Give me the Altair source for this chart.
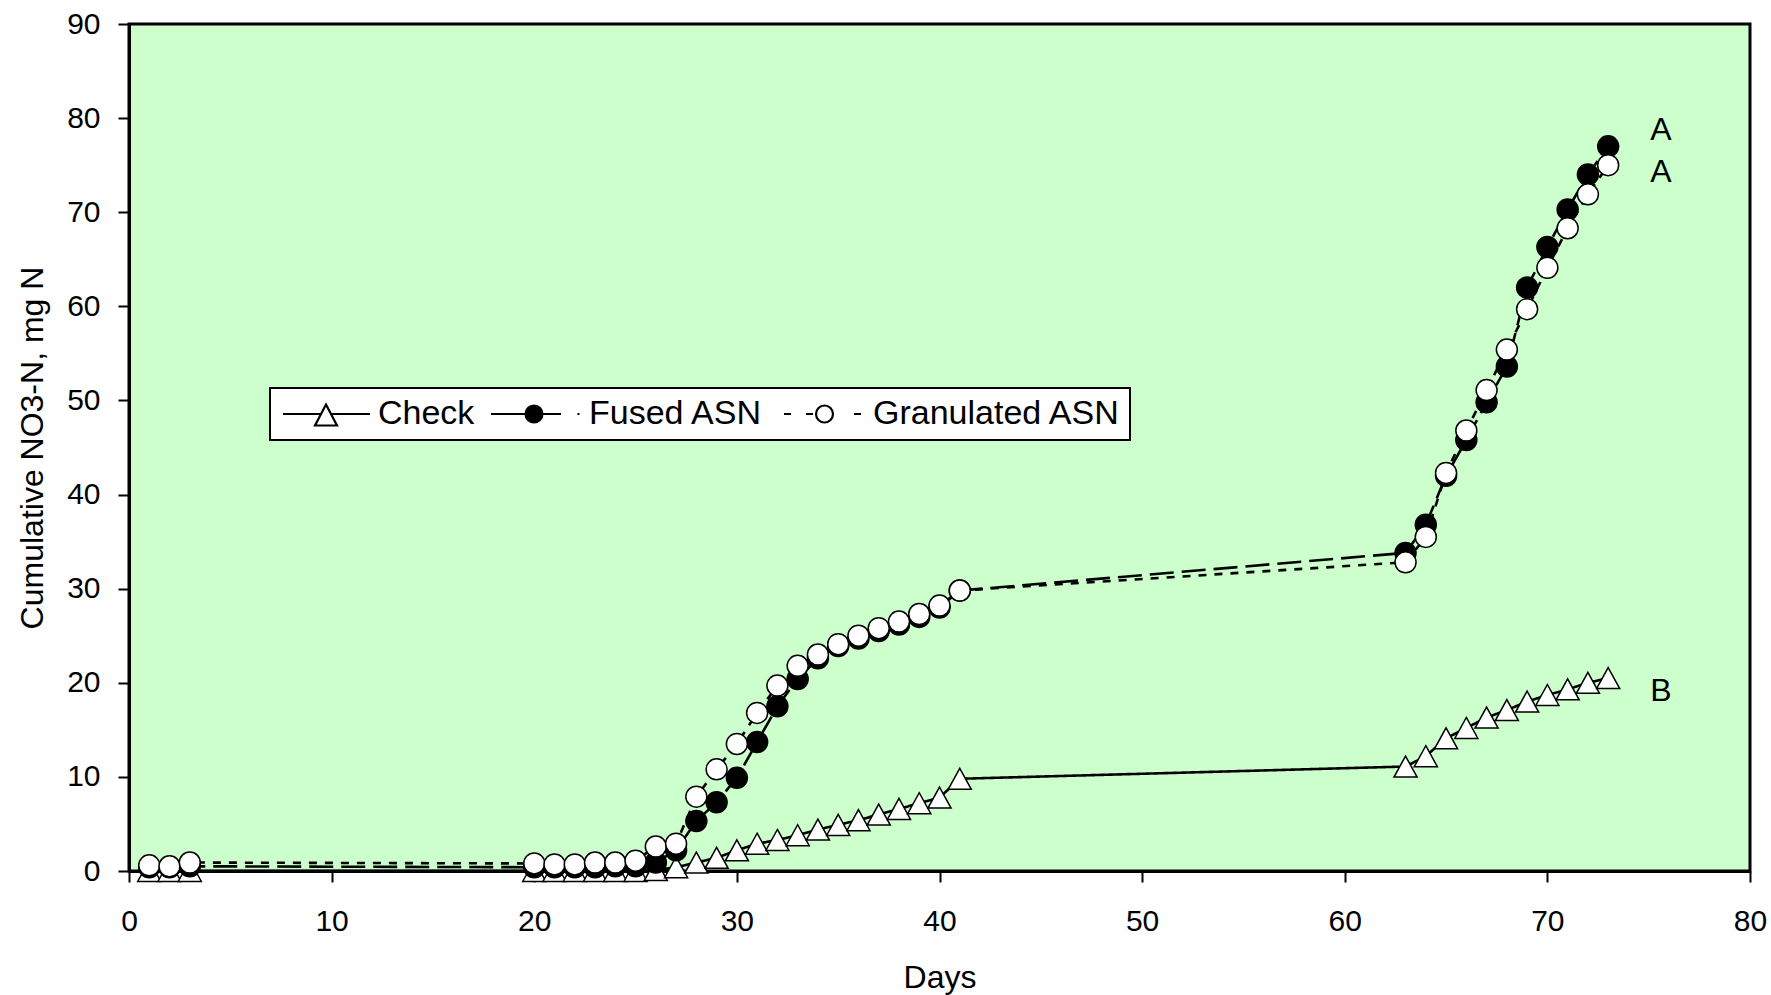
import altair as alt
import pandas as pd

FONT = "Liberation Sans"

# ---------------- data ----------------
series_names = ["Check", "Fused ASN", "Granulated ASN"]

days = [1, 2, 3,
        20, 21, 22, 23, 24, 25, 26, 27, 28, 29, 30, 31, 32, 33, 34, 35, 36, 37, 38, 39, 40, 41,
        63, 64, 65, 66, 67, 68, 69, 70, 71, 72, 73]

check = [0, 0, 0,
         0, 0, 0, 0, 0, 0, 0.1, 0.4, 0.9, 1.4, 2.2, 2.9, 3.3, 3.8, 4.4, 4.9, 5.4, 6.0, 6.6, 7.2, 7.8, 9.8,
         11.1, 12.2, 14.1, 15.2, 16.3, 17.1, 18.0, 18.7, 19.3, 20.0, 20.5]

fused = [0.4, 0.4, 0.5,
         0.4, 0.4, 0.4, 0.4, 0.5, 0.5, 0.9, 2.2, 5.3, 7.3, 9.9, 13.7, 17.5, 20.4, 22.6, 23.9, 24.7, 25.5,
         26.2, 27.0, 28.0, 29.8,
         33.8, 36.8, 42.0, 45.8, 49.8, 53.6, 62.0, 66.3, 70.3, 74.0, 77.0]

granulated = [0.6, 0.5, 0.9,
              0.8, 0.7, 0.7, 0.9, 0.9, 1.1, 2.6, 2.9, 7.9, 10.8, 13.5, 16.8, 19.7, 21.8, 23.0, 24.1, 25.0,
              25.8, 26.5, 27.3, 28.2, 29.8,
              32.8, 35.5, 42.3, 46.8, 51.1, 55.4, 59.7, 64.1, 68.3, 71.9, 75.0]

# letter annotations at the right end of the curves
ann_labels = ["A", "A", "B"]
ann_days = [75.6, 75.6, 75.6]
ann_values = [78.7, 74.3, 19.1]

x_ticks = [0, 10, 20, 30, 40, 50, 60, 70, 80]
y_ticks = [0, 10, 20, 30, 40, 50, 60, 70, 80, 90]

# ---------------- tables ----------------
rows = []
for name, vals in zip(series_names, [check, fused, granulated]):
    for d, v in zip(days, vals):
        rows.append({"day": d, "value": v, "series": name})
df = pd.DataFrame(rows)
ann_df = pd.DataFrame({"day": ann_days, "value": ann_values, "label": ann_labels})

# ---------------- styles ----------------
TRI = "M0,-1L1.1,1L-1.1,1Z"
marker_shapes = [TRI, "circle", "circle"]
marker_fills = ["white", "black", "white"]
dashes = [[1, 0], [24, 8], [8, 8]]

# legend sample symbols: line pattern + marker (unit = 10 px)
LEG_CHECK = "M-4.3,0L-0.5,0M0.5,0L4.4,0M0,-0.95L1.1,1.15L-1.1,1.15Z"
LEG_FUSED = ("M-4.6,0L-1.15,0M0.55,0L2.4,0M4.05,0L4.25,0"
             "M-1.15,0A0.85,0.85,0,1,1,0.55,0A0.85,0.85,0,1,1,-1.15,0Z")
LEG_GRAN = ("M-3.7,0L-3.0,0M-1.5,0L-0.8,0M3.3,0L4.0,0"
            "M-0.5,0A0.85,0.85,0,1,1,1.2,0A0.85,0.85,0,1,1,-0.5,0Z")
legend_shapes = [LEG_CHECK, LEG_FUSED, LEG_GRAN]
legend_strokes = ["black", "black", "black"]

x_axis = alt.Axis(
    values=x_ticks, title="Days", grid=False,
    labelFont=FONT, labelFontSize=30, labelColor="black", labelPadding=48,
    labelBaseline="alphabetic", labelFlush=False, labelOverlap=False,
    tickSize=11, tickWidth=2, tickColor="black",
    domainColor="black", domainWidth=3,
    titleFont=FONT, titleFontSize=32, titleFontWeight="normal", titleColor="black",
    titleY=116, titleBaseline="alphabetic",
)
y_axis = alt.Axis(
    values=y_ticks, title="Cumulative NO3-N, mg N", grid=False,
    labelFont=FONT, labelFontSize=30, labelColor="black", labelPadding=18,
    labelOverlap=False,
    tickSize=11, tickWidth=2, tickColor="black",
    domainColor="black", domainWidth=3,
    titleFont=FONT, titleFontSize=32, titleFontWeight="normal", titleColor="black",
    titleX=-87, titleY=423.5, titleAngle=270, titleAlign="center", titleBaseline="alphabetic",
)

xs = alt.Scale(domain=[0, 80], nice=False, zero=False)
ys = alt.Scale(domain=[0, 90], nice=False)

base = alt.Chart(df).encode(
    x=alt.X("day:Q", scale=xs, axis=x_axis),
    y=alt.Y("value:Q", scale=ys, axis=y_axis),
)

lines = base.mark_line(color="black", strokeWidth=2.6).encode(
    strokeDash=alt.StrokeDash("series:N", scale=alt.Scale(domain=series_names, range=dashes), legend=None),
)

points = base.mark_point(filled=True, opacity=1, stroke="black", strokeWidth=1.5, size=441).encode(
    shape=alt.Shape("series:N", scale=alt.Scale(domain=series_names, range=marker_shapes), legend=None),
    fill=alt.Fill("series:N", scale=alt.Scale(domain=series_names, range=marker_fills), legend=None),
)

leg = alt.Legend(
    orient="none", legendX=141, legendY=364, direction="horizontal", title=None,
    fillColor="white", strokeColor="black", padding=9,
    labelFont=FONT, labelFontSize=34, labelColor="black", labelLimit=600,
    labelOffset=35, symbolOffset=30, symbolSize=400, symbolStrokeWidth=2.2,
    columnPadding=11,
)

legend_layer = base.transform_filter("datum.day < 0").mark_point(
    filled=True, opacity=1, strokeWidth=2.2, size=400
).encode(
    shape=alt.Shape("series:N", scale=alt.Scale(domain=series_names, range=legend_shapes), legend=leg),
    fill=alt.Fill("series:N", scale=alt.Scale(domain=series_names, range=marker_fills), legend=leg),
    stroke=alt.Stroke("series:N", scale=alt.Scale(domain=series_names, range=legend_strokes), legend=leg),
)

ann = alt.Chart(ann_df).mark_text(
    font=FONT, fontSize=32, align="center", baseline="middle", color="black"
).encode(
    x=alt.X("day:Q", scale=xs),
    y=alt.Y("value:Q", scale=ys),
    text="label:N",
)

chart = (
    alt.layer(lines, points, legend_layer, ann)
    .resolve_scale(shape="independent", fill="independent", stroke="independent")
    .properties(
        width=1621, height=847,
        padding={"left": 129, "top": 24, "right": 21, "bottom": 124},
        autosize=alt.AutoSizeParams(type="none"),
        background="white",
    )
    .configure_view(fill="#CCFFCC", stroke="black", strokeWidth=3)
    .configure_legend(strokeWidth=2)
)

chart.save("out.html", embed_options={"renderer": "svg", "actions": False})
